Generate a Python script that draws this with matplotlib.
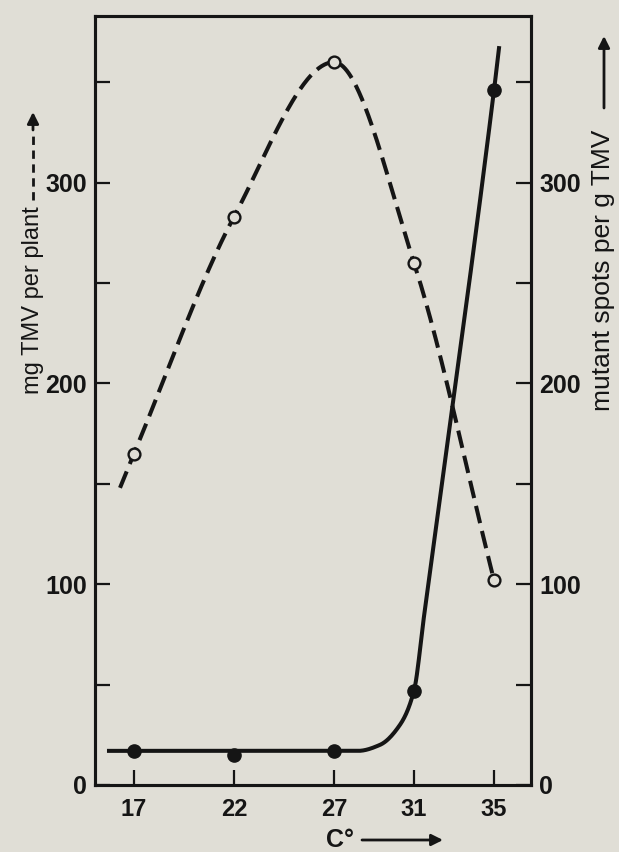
import numpy as np
import matplotlib
matplotlib.use("Agg")
import matplotlib.pyplot as plt
from matplotlib.lines import Line2D

# measured points
temps = [17, 22, 27, 31, 35]
tmv_yield = [165, 283, 360, 260, 102]      # mg TMV per plant (dashed, open circles)
mutant_spots = [17, 15, 17, 47, 346]       # mutant spots per g TMV (solid, filled)

# knots of the freehand trend curves
yield_curve_x = [16.3, 17, 22, 27, 31, 35]
yield_curve_y = [148, 165, 283, 360, 260, 102]
spots_curve_x = [15.75, 28.2, 29.3, 30.3, 31, 31.5, 35, 35.25]
spots_curve_y = [17, 17, 20, 30, 47, 84, 346, 367]

y_ticks = [0, 100, 200, 300]
y_minor = [50, 150, 250, 350]

BG = "#e0ded6"
INK = "#151515"
SANS = ["Liberation Sans", "DejaVu Sans"]
W, H = 619, 852


def pchip(xk, yk, xs):
    # monotone cubic hermite, keeps the curve from overshooting
    xk = np.asarray(xk, float)
    yk = np.asarray(yk, float)
    h = np.diff(xk)
    d = np.diff(yk) / h
    m = np.zeros_like(yk)
    m[0], m[-1] = d[0], d[-1]
    for k in range(1, len(xk) - 1):
        if d[k - 1] * d[k] > 0:
            w1 = 2 * h[k] + h[k - 1]
            w2 = h[k] + 2 * h[k - 1]
            m[k] = (w1 + w2) / (w1 / d[k - 1] + w2 / d[k])
    i = np.clip(np.searchsorted(xk, xs) - 1, 0, len(h) - 1)
    t = (xs - xk[i]) / h[i]
    h00 = 2 * t**3 - 3 * t**2 + 1
    h10 = t**3 - 2 * t**2 + t
    h01 = -2 * t**3 + 3 * t**2
    h11 = t**3 - t**2
    return h00 * yk[i] + h10 * h[i] * m[i] + h01 * yk[i + 1] + h11 * h[i] * m[i + 1]


def fpos(x, y):
    return x / W, 1 - y / H


def arrow(tip, tail):
    ax.annotate("", xy=fpos(*tip), xytext=fpos(*tail), xycoords="figure fraction",
                textcoords="figure fraction",
                arrowprops=dict(arrowstyle="-|>", color=INK, lw=2.0,
                                mutation_scale=17, shrinkA=0, shrinkB=0))


fig = plt.figure(figsize=(W / 100, H / 100), dpi=100, facecolor=BG)
ax = fig.add_axes([95 / W, 67 / H, 436 / W, 769 / H], facecolor=BG)
ax2 = ax.twinx()

ax.set_xlim(15.05, 36.85)
ax.set_ylim(0, 383)
ax2.set_ylim(0, 383)

xs = np.linspace(yield_curve_x[0], yield_curve_x[-1], 400)
ax.plot(xs, pchip(yield_curve_x, yield_curve_y, xs), color=INK, lw=2.9,
        dashes=(4.4, 2.0), zorder=2)
ax.plot(temps, tmv_yield, "o", ms=8.5, mfc=BG, mec=INK, mew=1.7, zorder=4)

xs = np.linspace(spots_curve_x[0], spots_curve_x[-1], 400)
ax2.plot(xs, pchip(spots_curve_x, spots_curve_y, xs), color=INK, lw=2.9, zorder=2)
ax2.plot(temps, mutant_spots, "o", ms=9.5, color=INK, zorder=4)

for a in (ax, ax2):
    for s in a.spines.values():
        s.set_linewidth(2.2)
        s.set_color(INK)

ax.set_xticks(temps)
ax.set_xticklabels([str(t) for t in temps], fontsize=17, fontweight="bold",
                   family=SANS)
ax.tick_params(axis="x", direction="in", length=11, width=1.6, pad=9, colors=INK)

for a in (ax, ax2):
    a.set_yticks(y_ticks)
    a.set_yticks(y_minor, minor=True)
    a.set_yticklabels([str(v) for v in y_ticks], fontsize=18, fontweight="bold",
                      family=SANS)
    a.tick_params(axis="y", which="both", direction="in", length=11, width=1.6,
                  pad=6, colors=INK)

# axis titles with their arrows
fig.text(*fpos(33, 300), "mg TMV per plant", rotation=90, ha="center", va="center",
         fontsize=17, family=SANS, color=INK)
x0, y0 = fpos(33, 200)
x1, y1 = fpos(33, 132)
fig.add_artist(Line2D([x0, x1], [y0, y1], transform=fig.transFigure, color=INK,
                      lw=2.0, dashes=(3, 2)))
arrow((33, 112), (33, 130))

fig.text(*fpos(603, 270), "mutant spots per g TMV", rotation=90, ha="center",
         va="center", fontsize=19, family=SANS, color=INK)
arrow((604, 36), (604, 108))

fig.text(*fpos(340, 840), "C°", ha="center", va="center", fontsize=18,
         fontweight="bold", family=SANS, color=INK)
arrow((443, 840), (362, 840))

fig.savefig("out.png", dpi=100, facecolor=BG)
